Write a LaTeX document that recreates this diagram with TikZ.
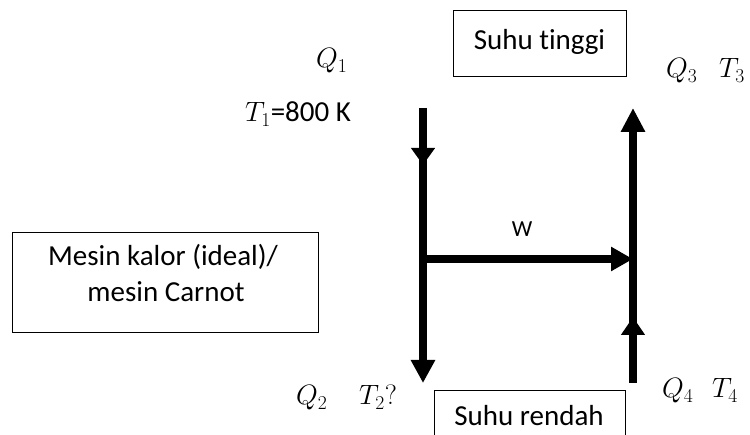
\documentclass[tikz,border=0pt]{standalone}
\usepackage{fix-cm}
\usepackage{fontspec}
\setmainfont{Carlito}[Ligatures={NoCommon,NoContextual}]
\usetikzlibrary{arrows.meta}
\newcommand{\mth}[1]{{\fontsize{28}{33}\selectfont$#1$}}
\begin{document}
\begin{tikzpicture}[x=1pt,y=-1pt,
  box/.style={draw=black, line width=0.9pt, inner sep=0},
  lbl/.style={font=\fontsize{29}{35}\selectfont, anchor=base, inner sep=0},
  mlbl/.style={font=\fontsize{29}{35}\selectfont, anchor=base west, inner sep=0},
  flow/.style={line width=8pt, -{Triangle[width=23pt,length=#1]}},
  flow/.default=22pt
]
\useasboundingbox (0,0) rectangle (750,435);
\clip (0,0) rectangle (750,435);

% boxes
\node[box, minimum width=173pt, minimum height=66pt] (hot) at (539.5,43) {};
\node[lbl] (hottext) at (539.5,50) {Suhu tinggi};

\node[box, minimum width=306pt, minimum height=100pt] (engine) at (165,282) {};
\node[lbl] (engtext1) at (163,266) {Mesin kalor (ideal)/};
\node[lbl] (engtext2) at (166,302) {mesin Carnot};

% cold reservoir box (its lower edge lies below the picture)
\coordinate (coldBL) at (434,440);
\coordinate (coldTL) at (434,390);
\coordinate (coldTR) at (625,390);
\coordinate (coldBR) at (625,440);
\draw[box] (coldBL) -- (coldTL) -- (coldTR) -- (coldBR);
\node[lbl] (coldtext) at (529,426) {Suhu rendah};

% labels
\node[mlbl] (q1) at (316,68) {\mth{Q_1}};
\node[mlbl] (t1) at (245,122) {\mth{T_1}=800 K};
\node[mlbl] (q3) at (666,78) {\mth{Q_3}};
\node[mlbl] (t3) at (719,78) {\mth{T_3}};
\node[mlbl] (q2) at (296,405) {\mth{Q_2}};
\node[mlbl] (t2) at (359,405) {\mth{T_2?}};
\node[mlbl] (q4) at (662,398) {\mth{Q_4}};
\node[mlbl] (t4) at (712,398) {\mth{T_4}};
\node[lbl, font=\fontsize{23}{28}\selectfont] (w) at (522,237) {W};

% arrow coordinates
\coordinate (Ltop) at (423,108);
\coordinate (Lmidtail) at (423,140);
\coordinate (Lmidtip) at (423,165);
\coordinate (Lbot) at (423,383);
\coordinate (Rbot) at (633,383);
\coordinate (Rmidtail) at (633,345);
\coordinate (Rmidtip) at (633,317);
\coordinate (Rtop) at (633,108);
\coordinate (Wl) at (423,259);
\coordinate (Wr) at (633,259);

\draw[flow=23pt] (Ltop) -- (Lbot);
\draw[flow=17pt] (Lmidtail) -- (Lmidtip);
\draw[flow=24pt] (Rbot) -- (Rtop);
\draw[flow=18pt] (Rmidtail) -- (Rmidtip);
\draw[flow=22pt] (Wl) -- (Wr);
\end{tikzpicture}
\end{document}
